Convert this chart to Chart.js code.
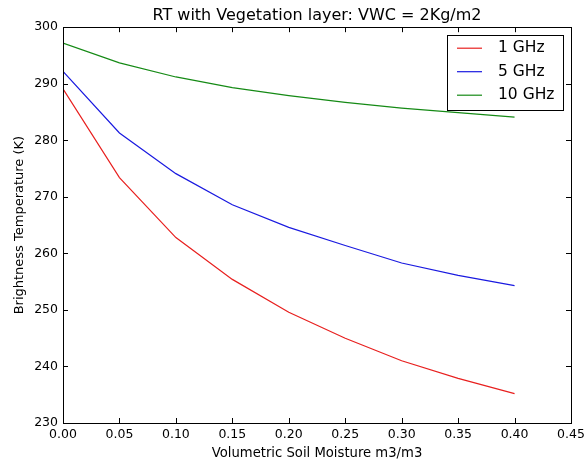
<!DOCTYPE html>
<html lang="en">
<head>
  <meta charset="UTF-8" />
  <title>RT with Vegetation layer</title>
  <script src="https://cdn.jsdelivr.net/npm/chart.js"></script>
  <style>
    body {
      margin: 0;
      background: #ffffff;
    }
    canvas {
      display: block;
    }
  </style>
</head>
<body>
  <canvas id="rtChart" width="584" height="464"></canvas>

  <script>
    // values
    const moisture = [0, 0.05, 0.10, 0.15, 0.20, 0.25, 0.30, 0.35, 0.40];
    const tb1GHz = [289.1, 273.4, 262.8, 255.4, 249.6, 245.0, 241.0, 237.9, 235.2];
    const tb5GHz = [292.2, 281.3, 274.1, 268.6, 264.6, 261.4, 258.3, 256.1, 254.3];
    const tb10GHz = [297.2, 293.7, 291.2, 289.3, 287.9, 286.7, 285.7, 284.9, 284.1];
    const seriesLabels = ["1 GHz", "5 GHz", "10 GHz"];
    const seriesColors = ["#e8201f", "#1a1ae0", "#158a15"];

    const FONT = "'DejaVu Sans', sans-serif";

    function toPoints(ys) {
      return moisture.map((x, i) => ({ x: x, y: ys[i] }));
    }

    // box around the axes + inward ticks on all four sides (matplotlib look)
    const frameTicks = {
      id: "frameTicks",
      afterDatasetsDraw(chart) {
        const { ctx, chartArea: a, scales } = chart;
        const len = 5;
        ctx.save();
        ctx.strokeStyle = "#000";
        ctx.lineWidth = 1;
        ctx.beginPath();
        scales.x.ticks.forEach(t => {
          const px = Math.round(scales.x.getPixelForValue(t.value)) + 0.5;
          ctx.moveTo(px, a.bottom); ctx.lineTo(px, a.bottom - len);
          ctx.moveTo(px, a.top); ctx.lineTo(px, a.top + len);
        });
        scales.y.ticks.forEach(t => {
          const py = Math.round(scales.y.getPixelForValue(t.value)) + 0.5;
          ctx.moveTo(a.left, py); ctx.lineTo(a.left + len, py);
          ctx.moveTo(a.right, py); ctx.lineTo(a.right - len, py);
        });
        ctx.stroke();
        ctx.strokeRect(Math.round(a.left) + 0.5, Math.round(a.top) + 0.5,
          Math.round(a.right - a.left), Math.round(a.bottom - a.top));
        ctx.restore();
      }
    };

    // legend box in upper right corner of the axes
    const boxLegend = {
      id: "boxLegend",
      afterDraw(chart) {
        const { ctx, chartArea: a } = chart;
        const w = 116, h = 75;
        const x0 = a.right - 8 - w, y0 = a.top + 8;
        ctx.save();
        ctx.fillStyle = "#fff";
        ctx.fillRect(x0, y0, w, h);
        ctx.strokeStyle = "#000";
        ctx.lineWidth = 1;
        ctx.strokeRect(Math.round(x0) + 0.5, Math.round(y0) + 0.5, w, h);
        ctx.font = "15.5px " + FONT;
        ctx.textBaseline = "middle";
        chart.data.datasets.forEach((ds, i) => {
          const y = y0 + 13 + i * 23.5;
          ctx.strokeStyle = ds.borderColor;
          ctx.lineWidth = 1.2;
          ctx.beginPath();
          ctx.moveTo(x0 + 10, y);
          ctx.lineTo(x0 + 35, y);
          ctx.stroke();
          ctx.fillStyle = "#000";
          ctx.fillText(ds.label, x0 + 51, y);
        });
        ctx.restore();
      }
    };

    const ctx = document.getElementById("rtChart").getContext("2d");
    new Chart(ctx, {
      type: "scatter",
      data: {
        datasets: [tb1GHz, tb5GHz, tb10GHz].map((ys, i) => ({
          label: seriesLabels[i],
          data: toPoints(ys),
          showLine: true,
          borderColor: seriesColors[i],
          backgroundColor: seriesColors[i],
          borderWidth: 1.2,
          pointRadius: 0,
          tension: 0
        }))
      },
      options: {
        responsive: false,
        animation: false,
        devicePixelRatio: 1,
        layout: { padding: { left: 0, right: 0, top: 0, bottom: 0 } },
        plugins: {
          legend: { display: false },
          tooltip: { enabled: false },
          title: {
            display: true,
            fullSize: false,
            text: "RT with Vegetation layer: VWC = 2Kg/m2",
            color: "#000",
            font: { family: FONT, size: 16, weight: "normal" },
            padding: { top: 6, bottom: 2 }
          }
        },
        scales: {
          x: {
            type: "linear",
            min: 0,
            max: 0.45,
            grid: { display: false, drawTicks: false },
            border: { display: false },
            ticks: {
              stepSize: 0.05,
              color: "#000",
              padding: 4,
              maxRotation: 0,
              font: { family: FONT, size: 12.5 },
              callback: v => v.toFixed(2)
            },
            title: {
              display: true,
              text: "Volumetric Soil Moisture m3/m3",
              color: "#000",
              font: { family: FONT, size: 13.2 },
              padding: { top: 0, bottom: 3 }
            },
            afterFit: s => { s.height = 41; s.paddingRight = 13; }
          },
          y: {
            type: "linear",
            min: 230,
            max: 300,
            grid: { display: false, drawTicks: false },
            border: { display: false },
            ticks: {
              stepSize: 10,
              color: "#000",
              padding: 5,
              font: { family: FONT, size: 12.5 }
            },
            title: {
              display: true,
              text: "Brightness Temperature (K)",
              color: "#000",
              font: { family: FONT, size: 13 },
              padding: { top: 12, bottom: 0 }
            },
            afterFit: s => { s.width = 63; }
          }
        }
      },
      plugins: [frameTicks, boxLegend]
    });
  </script>
</body>
</html>
